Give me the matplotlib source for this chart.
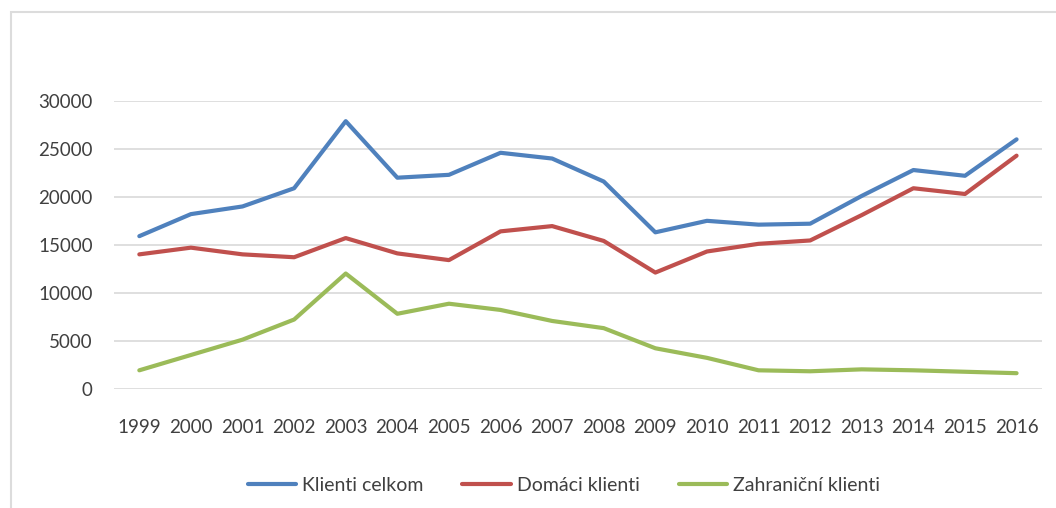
import matplotlib
matplotlib.use('Agg')
import matplotlib.pyplot as plt
from matplotlib.patches import Rectangle

plt.rcParams['font.family'] = ['Lato', 'DejaVu Sans']

# --- data ---
years = list(range(1999, 2017))
klienti_celkom = [15900, 18200, 19000, 20900, 27900, 22000, 22300, 24600, 24000,
                  21600, 16300, 17500, 17100, 17200, 20100, 22800, 22200, 26000]
domaci_klienti = [14000, 14700, 14000, 13700, 15700, 14100, 13400, 16400, 16950,
                  15400, 12100, 14300, 15100, 15450, 18100, 20900, 20300, 24300]
zahranicni_klienti = [1900, 3500, 5100, 7200, 12000, 7800, 8850, 8200, 7050,
                      6300, 4200, 3200, 1900, 1800, 2000, 1900, 1750, 1600]
y_ticks = [0, 5000, 10000, 15000, 20000, 25000, 30000]

series = [
    ('Klienti celkom', klienti_celkom, '#4F81BD'),
    ('Domáci klienti', domaci_klienti, '#C0504D'),
    ('Zahraniční klienti', zahranicni_klienti, '#9BBB59'),
]

text_color = '#404040'

fig = plt.figure(figsize=(10.56, 5.08), dpi=100)
ax = fig.add_axes([0.1075, 0.2352, 0.8796, 0.5659])

# light chart frame (Excel chart area border)
fig.patches.append(Rectangle((11 / 1056, -0.1), 1.2, 1 - 12 / 508 + 0.1,
                             transform=fig.transFigure, fill=False,
                             edgecolor='#dcdcdc', linewidth=1.5))

for label, values, color in series:
    ax.plot(years, values, color=color, linewidth=3, label=label,
            solid_capstyle='round', solid_joinstyle='round')

ax.set_xlim(1998.5, 2016.5)
ax.set_ylim(0, 30000)
ax.set_xticks(years)
ax.set_xticklabels([str(y) for y in years])
ax.set_yticks(y_ticks)
ax.set_yticklabels([str(v) for v in y_ticks])

ax.grid(axis='y', color='#d9d9d9', linewidth=1.2)
ax.set_axisbelow(True)
for side in ['top', 'right', 'left', 'bottom']:
    ax.spines[side].set_visible(False)
ax.tick_params(axis='both', length=0, labelsize=13.5, colors=text_color)
ax.tick_params(axis='y', pad=15)
ax.tick_params(axis='x', pad=22)

fig.legend(loc='center', bbox_to_anchor=(0.534, 0.045), ncol=3, frameon=False,
           fontsize=14, handlelength=2.5, handletextpad=0.3, columnspacing=2.0,
           labelcolor=text_color)

fig.savefig('out.png', dpi=100)
